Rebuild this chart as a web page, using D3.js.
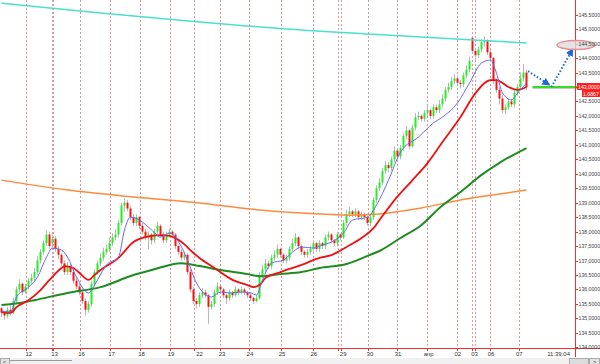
<!DOCTYPE html>
<html>
<head>
<meta charset="utf-8">
<script src="https://cdn.jsdelivr.net/npm/d3@7"></script>
<style>
body { margin: 0; background: #fff; }
svg { display: block; font-family: "Liberation Sans", Arial, sans-serif; }
</style>
</head>
<body>
<div id="chart"></div>
<script>
// candles, one every bar index
const opens = [
  135.35,135.20,135.10,135.30,135.20,135.60,136.00,136.20,135.90,136.10,
  136.30,136.40,136.60,137.00,137.30,137.60,137.90,137.60,137.75,137.40,
  137.20,136.90,136.60,136.80,136.60,136.30,136.10,135.90,135.60,135.30,
  135.50,136.20,136.60,136.90,137.10,137.30,137.40,137.60,137.80,137.90,
  138.30,138.90,139.00,138.80,138.50,138.30,138.50,138.20,138.00,137.80,
  137.90,137.70,138.00,138.20,137.90,137.70,137.90,138.00,137.90,137.50,
  137.30,137.10,137.20,136.60,136.00,135.60,135.50,135.80,135.90,135.80,
  135.40,135.50,135.90,136.10,136.00,135.80,135.70,135.90,135.80,136.00,
  135.90,136.00,135.90,135.80,135.70,135.60,135.70,136.50,136.70,136.90,
  136.80,137.10,137.20,137.40,137.20,137.00,137.10,137.40,137.60,137.80,
  137.50,137.30,137.20,137.30,137.40,137.60,137.40,137.60,137.50,137.80,
  137.90,137.70,137.60,137.90,137.80,138.30,138.60,138.70,138.60,138.70,
  138.50,138.60,138.50,138.30,138.50,139.10,139.50,139.70,140.10,140.30,
  140.20,140.50,140.80,140.60,140.90,141.30,141.50,140.95,141.60,141.95,
  142.00,141.90,142.10,142.20,142.00,142.30,142.20,142.40,142.60,142.90,
  143.00,143.20,143.30,143.15,143.10,143.40,143.60,144.70,144.25,144.10,
  144.30,144.55,144.60,144.20,144.00,143.20,142.90,142.60,142.20,142.30,
  142.50,142.40,142.80,143.00,143.30,143.50
];
const closes = [
  135.20,135.10,135.30,135.20,135.60,136.00,136.20,135.90,136.10,136.30,
  136.40,136.60,137.00,137.30,137.60,137.90,137.50,137.75,137.40,137.20,
  136.90,136.60,136.80,136.60,136.30,136.10,135.90,135.60,135.30,135.50,
  136.20,136.60,136.90,137.10,137.30,137.40,137.60,137.80,137.90,138.30,
  138.90,139.00,138.80,138.50,138.30,138.50,138.20,138.00,137.80,137.90,
  137.70,138.00,138.20,137.90,137.70,137.90,138.00,137.90,137.50,137.30,
  137.10,137.20,136.60,136.00,135.60,135.50,135.80,135.90,135.80,135.40,
  135.50,135.90,136.10,136.00,135.80,135.70,135.90,135.80,136.00,135.90,
  136.00,135.90,135.80,135.70,135.60,135.70,136.50,136.70,136.90,136.80,
  137.10,137.20,137.40,137.20,137.00,137.10,137.40,137.60,137.80,137.50,
  137.30,137.20,137.30,137.40,137.60,137.40,137.60,137.50,137.80,137.90,
  137.70,137.60,137.90,137.80,138.30,138.60,138.70,138.60,138.70,138.50,
  138.60,138.50,138.30,138.50,139.10,139.50,139.70,140.10,140.30,140.20,
  140.50,140.80,140.60,140.90,141.30,141.50,140.95,141.60,141.95,142.00,
  141.90,142.10,142.20,142.00,142.30,142.20,142.40,142.60,142.90,143.00,
  143.20,143.30,143.15,143.10,143.40,143.60,143.90,144.25,144.10,144.30,
  144.55,144.60,144.20,144.00,143.20,142.90,142.60,142.20,142.30,142.50,
  142.40,142.80,143.00,143.30,143.50,143.00
];
const highs = [
  135.40,135.25,135.40,135.45,135.70,136.10,136.35,136.25,136.20,136.40,
  136.55,136.75,137.15,137.40,137.70,138.05,138.00,137.90,137.85,137.50,
  137.25,137.00,136.95,136.90,136.70,136.40,136.20,136.00,135.70,135.60,
  136.30,136.70,137.00,137.25,137.45,137.55,137.80,137.95,138.10,138.40,
  139.00,139.15,139.10,138.90,138.60,138.60,138.55,138.30,138.10,138.00,
  137.95,138.10,138.35,138.25,138.00,138.00,138.10,138.05,137.95,137.55,
  137.40,137.30,137.25,136.70,136.10,135.70,135.90,136.05,136.00,135.85,
  135.60,136.00,136.25,136.15,136.05,135.85,136.00,135.95,136.10,136.05,
  136.10,136.05,135.95,135.90,135.75,135.80,136.60,136.85,137.05,137.00,
  137.20,137.35,137.55,137.45,137.25,137.20,137.50,137.75,137.95,137.85,
  137.55,137.35,137.40,137.50,137.70,137.65,137.70,137.65,137.90,138.00,
  137.95,137.75,138.00,137.95,138.40,138.75,138.85,138.75,138.80,138.75,
  138.70,138.65,138.55,138.60,139.20,139.60,139.85,140.20,140.45,140.40,
  140.60,140.95,140.85,141.00,141.40,141.65,141.55,141.70,142.10,142.15,
  142.05,142.20,142.35,142.25,142.40,142.40,142.55,142.75,143.00,143.15,
  143.35,143.45,143.40,143.25,143.50,143.75,144.05,144.75,144.35,144.40,
  144.65,144.75,144.65,144.30,144.05,143.30,143.00,142.70,142.40,142.60,
  142.60,142.90,143.10,143.50,143.80,143.60
];
const lows = [
  135.05,134.95,135.00,135.10,135.15,135.50,135.90,135.80,135.85,136.00,
  136.20,136.30,136.50,136.90,137.20,137.50,137.40,137.45,137.30,137.05,
  136.80,136.50,136.50,136.50,136.20,136.00,135.80,135.50,135.10,135.20,
  135.40,136.10,136.50,136.80,137.00,137.20,137.30,137.50,137.70,137.80,
  138.20,138.70,138.70,138.40,138.20,138.20,138.10,137.90,137.70,137.40,
  137.55,137.60,137.90,137.80,137.60,137.60,137.80,137.80,137.40,137.20,
  137.00,137.00,136.50,135.90,135.50,135.35,135.40,135.70,135.70,134.80,
  135.30,135.40,135.80,135.85,135.70,135.50,135.60,135.70,135.75,135.80,
  135.85,135.80,135.70,135.60,135.50,135.55,135.65,136.40,136.60,136.70,
  136.70,137.00,137.10,137.10,136.90,136.90,137.00,137.30,137.50,137.40,
  137.20,137.10,137.10,137.20,137.30,137.30,137.30,137.40,137.40,137.70,
  137.60,137.50,137.50,137.70,137.75,138.20,138.50,138.50,138.50,138.40,
  138.40,138.40,138.20,138.20,138.40,139.00,139.40,139.60,140.00,140.05,
  140.10,140.40,140.50,140.50,140.80,141.20,140.85,140.90,141.50,141.85,
  141.80,141.80,142.00,141.90,141.90,142.10,142.10,142.30,142.50,142.80,
  142.90,143.10,143.05,142.95,143.00,143.30,143.50,144.15,143.95,144.00,
  144.20,144.40,144.10,143.90,143.10,142.80,142.40,142.10,142.05,142.20,
  142.30,142.30,142.70,142.90,143.20,142.90
];

// moving averages, [bar index, price]
const maFast = [[0,135.25],[3,135.22],[5,135.74],[9,136.08],[12,136.43],[15,137.12],[17,137.43],[20,137.36],[22,137.12],[25,136.43],[29,135.88],[30,135.98],[32,136.33],[35,136.85],[39,137.12],[41,138.06],[43,138.50],[46,138.40],[50,138.06],[53,137.81],[56,137.95],[60,137.47],[62,137.02],[65,136.22],[70,135.74],[73,135.91],[76,135.88],[80,135.91],[83,135.88],[85,135.81],[87,136.33],[90,136.91],[94,137.02],[97,137.29],[100,137.47],[104,137.43],[107,137.54],[110,137.64],[114,137.95],[117,138.40],[122,138.50],[125,138.92],[129,139.78],[133,140.75],[139,141.27],[144,141.76],[147,141.96],[152,142.45],[156,143.14],[160,143.83],[163,143.93],[165,143.48],[167,142.79],[170,142.55],[172,142.79],[175,143.14]];
const maMid = [[0,135.22],[3,135.19],[5,135.39],[9,135.63],[13,135.98],[16,136.33],[20,136.74],[21,136.81],[24,136.74],[26,136.57],[29,136.33],[31,136.50],[33,136.67],[39,137.09],[44,137.64],[48,137.81],[53,137.88],[56,137.85],[60,137.64],[64,137.26],[66,137.09],[71,136.74],[77,136.33],[82,136.15],[84,136.08],[86,136.15],[88,136.40],[93,136.60],[100,136.85],[106,137.09],[110,137.19],[115,137.47],[120,137.78],[124,138.12],[126,138.40],[131,139.09],[137,139.78],[142,140.37],[147,141.10],[153,141.96],[158,142.79],[163,143.24],[165,143.24],[169,143.00],[172,142.90],[175,143.00]];
const maSlow = [[0,135.46],[6,135.53],[11,135.63],[22,135.88],[33,136.08],[44,136.50],[50,136.67],[60,136.91],[66,136.81],[73,136.67],[82,136.53],[86,136.46],[93,136.53],[100,136.60],[106,136.74],[115,136.88],[122,137.16],[126,137.33],[133,137.78],[140,138.23],[146,138.82],[153,139.37],[160,139.96],[166,140.38],[175,140.89]];
const maLong = [[0,139.78],[22,139.44],[44,139.20],[66,138.99],[83,138.78],[100,138.64],[116,138.57],[126,138.61],[140,138.82],[153,139.09],[166,139.30],[175,139.44]];
const maVeryLong = [[0,145.90],[33,145.56],[66,145.25],[100,144.97],[133,144.77],[156,144.63],[175,144.52]];

// day separators (bar index) and date labels
const separators = [8.0,16.7,17.1,26.0,36.1,46.1,56.0,64.3,72.8,82.4,93.3,103.8,112.1,113.0,122.3,131.8,141.7,151.9,156.7,157.7,162.8,172.4];
const dayLabels = ["12","13","16","17","18","19","22","23","24","25","26","29","30","31","апр","02","03","06","07","11:39:04"];
const dayLabelPos = [9.1,17.7,26.7,36.7,46.7,56.5,66.0,73.5,82.8,93.5,104.1,113.9,122.8,132.2,142.4,152.1,157.7,163.2,172.6,185.7];

const priceTicks = d3.range(134, 145.51, 0.5);

const width = 600, height = 364;
const axisX = 575, axisY = 348;

const svg = d3.select("#chart").append("svg")
    .attr("width", width)
    .attr("height", height);

const xScale = d3.scaleLinear().domain([0, 175]).range([1.5, 526.5]);
const yScale = d3.scaleLinear().domain([134, 145.5]).range([347.3, 14.7]);

const plot = svg.append("g");
plot.append("clipPath").attr("id", "clip")
  .append("rect").attr("x", 0).attr("y", 0).attr("width", axisX).attr("height", axisY);
const inner = plot.append("g").attr("clip-path", "url(#clip)");

// separators
inner.selectAll("line.sep")
  .data(separators)
  .enter().append("line")
    .attr("class", "sep")
    .attr("x1", d => Math.round(xScale(d)) + 0.5)
    .attr("x2", d => Math.round(xScale(d)) + 0.5)
    .attr("y1", 0)
    .attr("y2", axisY)
    .attr("stroke", "#d89a9a")
    .attr("stroke-width", 1)
    .attr("stroke-dasharray", "2,2");

const bars = d3.range(closes.length);

// wicks
inner.selectAll("line.wick")
  .data(bars)
  .enter().append("line")
    .attr("class", "wick")
    .attr("x1", i => xScale(i))
    .attr("x2", i => xScale(i))
    .attr("y1", i => yScale(highs[i]))
    .attr("y2", i => yScale(lows[i]))
    .attr("stroke", "#b8b8b8")
    .attr("stroke-width", 1);

// bodies
inner.selectAll("rect.body")
  .data(bars)
  .enter().append("rect")
    .attr("class", "body")
    .attr("x", i => xScale(i) - 1)
    .attr("width", 2)
    .attr("y", i => yScale(Math.max(opens[i], closes[i])))
    .attr("height", i => Math.max(1, Math.abs(yScale(opens[i]) - yScale(closes[i]))))
    .attr("fill", i => closes[i] >= opens[i] ? "#22ee22" : "#ff1010");

// moving averages
const line = d3.line()
    .x(d => xScale(d[0]))
    .y(d => yScale(d[1]))
    .curve(d3.curveMonotoneX);

const maStyles = [
  {data: maVeryLong, color: "#48e0d0", w: 1.5},
  {data: maLong, color: "#ff8a3c", w: 1.5},
  {data: maSlow, color: "#1e8c1e", w: 2},
  {data: maMid, color: "#ee1111", w: 1.8},
  {data: maFast, color: "#6a6af0", w: 1}
];
maStyles.forEach(function(m) {
  inner.append("path")
    .datum(m.data)
    .attr("d", line)
    .attr("fill", "none")
    .attr("stroke", m.color)
    .attr("stroke-width", m.w);
});

// last price line
const last = closes[closes.length - 1];
svg.append("line")
  .attr("x1", xScale(177)).attr("x2", axisX + 2)
  .attr("y1", yScale(last) + 1.5).attr("y2", yScale(last) + 1.5)
  .attr("stroke", "#c8c8c8").attr("stroke-width", 1);
svg.append("line")
  .attr("x1", xScale(177)).attr("x2", axisX + 2)
  .attr("y1", yScale(last)).attr("y2", yScale(last))
  .attr("stroke", "#33dd22").attr("stroke-width", 2);

// annotation: dotted arrows
svg.append("defs").append("marker")
  .attr("id", "arr")
  .attr("viewBox", "0 0 10 10")
  .attr("refX", 8).attr("refY", 5)
  .attr("markerWidth", 4).attr("markerHeight", 4)
  .attr("orient", "auto")
  .append("path").attr("d", "M0,0L10,5L0,10z").attr("fill", "#1a6ad0");

[[175.5, 143.55, 182.5, 143.08], [183.3, 143.0, 190.3, 144.3]].forEach(function(a) {
  svg.append("line")
    .attr("x1", xScale(a[0])).attr("y1", yScale(a[1]))
    .attr("x2", xScale(a[2])).attr("y2", yScale(a[3]))
    .attr("stroke", "#1a6ad0").attr("stroke-width", 2)
    .attr("stroke-dasharray", "1.5,2")
    .attr("marker-end", "url(#arr)");
});

// axes
svg.append("line")
  .attr("x1", 0).attr("x2", width).attr("y1", axisY + 0.5).attr("y2", axisY + 0.5)
  .attr("stroke", "#f03030").attr("stroke-width", 1);
svg.append("line")
  .attr("x1", axisX + 0.5).attr("x2", axisX + 0.5).attr("y1", 0).attr("y2", 357)
  .attr("stroke", "#f03030").attr("stroke-width", 1);

svg.selectAll("line.xt")
  .data(separators)
  .enter().append("line")
    .attr("x1", d => Math.round(xScale(d)) + 0.5)
    .attr("x2", d => Math.round(xScale(d)) + 0.5)
    .attr("y1", axisY).attr("y2", axisY + 3)
    .attr("stroke", "#f03030");

svg.selectAll("text.day")
  .data(dayLabels)
  .enter().append("text")
    .attr("x", (d, i) => xScale(dayLabelPos[i]))
    .attr("y", 356)
    .attr("text-anchor", "middle")
    .attr("font-size", 6)
    .attr("fill", "#333")
    .text(d => d);

const fmt = v => v.toFixed(4).replace(".", ",");
svg.selectAll("line.yt")
  .data(priceTicks)
  .enter().append("line")
    .attr("x1", axisX).attr("x2", axisX + 3)
    .attr("y1", d => Math.round(yScale(d)) + 0.5)
    .attr("y2", d => Math.round(yScale(d)) + 0.5)
    .attr("stroke", "#f03030");

// ellipse round the target level label
svg.append("ellipse")
  .attr("cx", xScale(191.5)).attr("cy", yScale(144.45))
  .attr("rx", 19).attr("ry", 4.5)
  .attr("fill", "#dcdcdc").attr("fill-opacity", 0.8)
  .attr("stroke", "#e89090").attr("stroke-width", 1.5);

svg.selectAll("text.py")
  .data(priceTicks)
  .enter().append("text")
    .attr("x", axisX + 3.5)
    .attr("y", d => yScale(d) + 2)
    .attr("font-size", 5.2)
    .attr("fill", "#444")
    .text(d => fmt(d));

// last price tag
svg.append("rect")
  .attr("x", axisX + 2).attr("y", yScale(last) - 4)
  .attr("width", 23).attr("height", 7)
  .attr("fill", "#ff2020");
svg.append("text")
  .attr("x", axisX + 3).attr("y", yScale(last) + 2)
  .attr("font-size", 5.2).attr("fill", "#fff")
  .text(fmt(last));
svg.append("rect")
  .attr("x", axisX + 7).attr("y", yScale(last) + 3)
  .attr("width", 18).attr("height", 7)
  .attr("fill", "#ff2020");
svg.append("text")
  .attr("x", axisX + 8).attr("y", yScale(last) + 9)
  .attr("font-size", 5.2).attr("fill", "#fff")
  .text("1.6867");

// scroll bar strip
const sb = svg.append("g");
sb.append("rect").attr("x", 0).attr("y", 358).attr("width", width).attr("height", 6).attr("fill", "#f0f0f0");
sb.append("rect").attr("x", 10).attr("y", 360).attr("width", 62).attr("height", 1).attr("fill", "#999");
sb.append("rect").attr("x", 0.5).attr("y", 358.5).attr("width", 9).attr("height", 6).attr("fill", "#e4e4e4").attr("stroke", "#aaa");
sb.append("text").attr("x", 3).attr("y", 363.5).attr("font-size", 5.5).attr("fill", "#333").text("<");
sb.append("rect").attr("x", 569.5).attr("y", 358.5).attr("width", 19).attr("height", 6).attr("fill", "#dcdcdc").attr("stroke", "#aaa");
sb.append("rect").attr("x", 589.5).attr("y", 358.5).attr("width", 10).attr("height", 6).attr("fill", "#e4e4e4").attr("stroke", "#aaa");
sb.append("text").attr("x", 593).attr("y", 363.5).attr("font-size", 5.5).attr("fill", "#333").text(">");
</script>
</body>
</html>
